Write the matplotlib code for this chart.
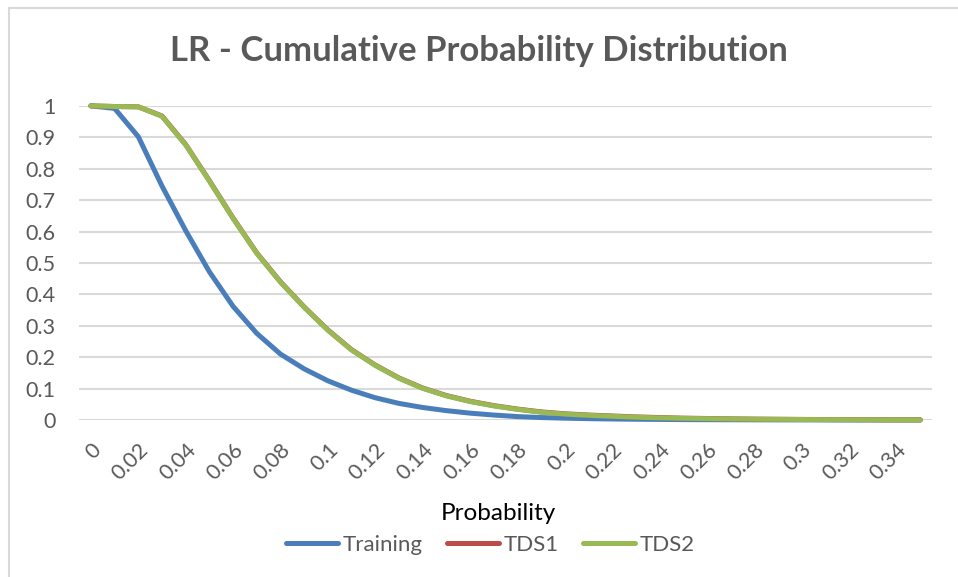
import matplotlib.pyplot as plt
from matplotlib.patches import Rectangle

plt.rcParams['font.family'] = ['Lato', 'DejaVu Sans']

# x categories 0 .. 0.35
categories = [round(i * 0.01, 2) for i in range(36)]
tick_labels = ["0", "0.02", "0.04", "0.06", "0.08", "0.1", "0.12", "0.14", "0.16",
               "0.18", "0.2", "0.22", "0.24", "0.26", "0.28", "0.3", "0.32", "0.34"]

training = [1.0, 0.992, 0.902, 0.745, 0.603, 0.472, 0.362, 0.276, 0.21, 0.163,
            0.125, 0.095, 0.071, 0.053, 0.040, 0.030, 0.022, 0.016, 0.011, 0.008,
            0.006, 0.0045, 0.0034, 0.0026, 0.002, 0.0015, 0.0012, 0.001, 0.0008,
            0.0006, 0.0005, 0.0004, 0.0003, 0.0003, 0.0002, 0.0002]
tds1 = [1.0, 0.998, 0.997, 0.968, 0.877, 0.762, 0.643, 0.532, 0.44, 0.36,
        0.287, 0.224, 0.175, 0.134, 0.102, 0.078, 0.060, 0.046, 0.035, 0.026,
        0.020, 0.016, 0.013, 0.010, 0.008, 0.006, 0.005, 0.004, 0.003, 0.0025,
        0.002, 0.0016, 0.0013, 0.001, 0.0008, 0.0007]
tds2 = [1.0, 0.998, 0.997, 0.967, 0.876, 0.761, 0.642, 0.531, 0.439, 0.359,
        0.286, 0.223, 0.174, 0.133, 0.101, 0.077, 0.059, 0.045, 0.034, 0.025,
        0.019, 0.015, 0.012, 0.009, 0.007, 0.0055, 0.0045, 0.0035, 0.0028, 0.0022,
        0.0018, 0.0014, 0.0011, 0.0009, 0.0007, 0.0006]

fig = plt.figure(figsize=(9.58, 5.77), dpi=100)
ax = fig.add_axes([0.0825, 0.272, 0.8905, 0.5445])

idx = list(range(len(categories)))
ax.plot(idx, training, color="#4A7EBB", lw=3.6, label="Training", clip_on=False,
        solid_capstyle="round", solid_joinstyle="round", zorder=3)
ax.plot(idx, tds1, color="#BE4B48", lw=3.6, label="TDS1", clip_on=False,
        solid_capstyle="round", solid_joinstyle="round", zorder=3)
ax.plot(idx, tds2, color="#98B954", lw=3.6, label="TDS2", clip_on=False,
        solid_capstyle="round", solid_joinstyle="round", zorder=4)

ax.set_xlim(-0.5, len(categories) - 0.5)
ax.set_ylim(0, 1)
ax.set_yticks([i / 10 for i in range(11)])
ax.set_yticklabels(["0", "0.1", "0.2", "0.3", "0.4", "0.5", "0.6", "0.7", "0.8", "0.9", "1"])
ax.set_xticks(idx[::2])
ax.set_xticklabels(tick_labels, rotation=45, ha="right", va="top", rotation_mode="anchor")
ax.tick_params(axis="both", length=0, labelsize=15.5, labelcolor="#595959")
ax.tick_params(axis="x", pad=14)
ax.tick_params(axis="y", pad=17)
ax.grid(axis="y", color="#D9D9D9", lw=1.5)
ax.set_axisbelow(True)
for s in ax.spines.values():
    s.set_visible(False)

fig.text(0.5, 0.912, "LR - Cumulative Probability Distribution", ha="center", va="center",
         fontsize=25, fontweight="bold", color="#595959")
fig.text(0.52, 0.11, "Probability", ha="center", va="center", fontsize=17.5, color="#000000")
fig.legend(loc="center", bbox_to_anchor=(0.512, 0.055), ncol=3, frameon=False,
           fontsize=16, handlelength=2.35, handletextpad=0.2, columnspacing=1.1,
           labelcolor="#595959")

# chart-area border (cropped on the right and bottom in the original)
fig.patches.append(Rectangle((0.009, -0.05), 1.1, 1.037, transform=fig.transFigure,
                             fill=False, edgecolor="#D9D9D9", lw=1.5))

fig.savefig("out.png", dpi=100)
